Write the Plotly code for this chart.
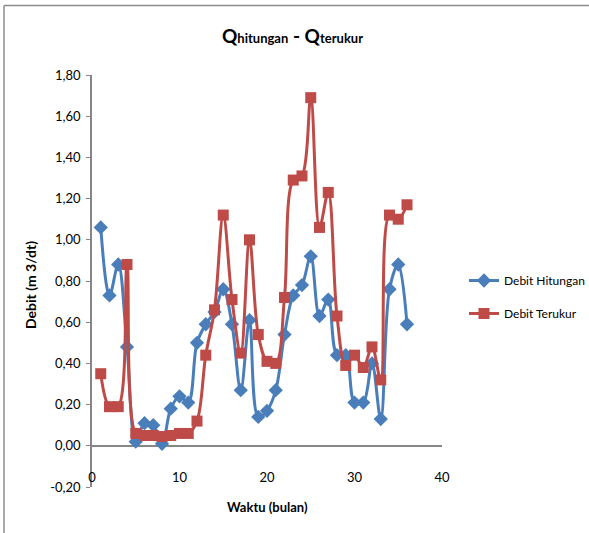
import plotly.graph_objects as go

months = list(range(1, 37))
debit_hitungan = [1.06, 0.73, 0.88, 0.48, 0.02, 0.11, 0.10, 0.01, 0.18, 0.24, 0.21, 0.50,
                  0.59, 0.65, 0.76, 0.59, 0.27, 0.61, 0.14, 0.17, 0.27, 0.54, 0.73, 0.78,
                  0.92, 0.63, 0.71, 0.44, 0.44, 0.21, 0.21, 0.40, 0.13, 0.76, 0.88, 0.59]
debit_terukur = [0.35, 0.19, 0.19, 0.88, 0.06, 0.05, 0.05, 0.045, 0.05, 0.06, 0.06, 0.12,
                 0.44, 0.66, 1.12, 0.71, 0.45, 1.00, 0.54, 0.41, 0.40, 0.72, 1.29, 1.31,
                 1.69, 1.06, 1.23, 0.63, 0.39, 0.44, 0.38, 0.48, 0.32, 1.12, 1.10, 1.17]
y_ticks = [-0.2, 0, 0.2, 0.4, 0.6, 0.8, 1.0, 1.2, 1.4, 1.6, 1.8]
y_tick_labels = ["-0,20", "0,00", "0,20", "0,40", "0,60", "0,80", "1,00",
                 "1,20", "1,40", "1,60", "1,80"]
x_ticks = [0, 10, 20, 30, 40]

FONT = "Lato"
BLUE = "#4A7EBB"
RED = "#BE4B48"
GRAY = "#868686"

fig = go.Figure()
fig.add_trace(go.Scatter(
    x=months, y=debit_hitungan, name="Debit Hitungan", mode="lines+markers",
    legendgroup="h",
    line=dict(color=BLUE, width=3, shape="spline", smoothing=1),
    marker=dict(symbol="diamond", size=11, color=BLUE),
))
fig.add_trace(go.Scatter(
    x=months, y=debit_terukur, name="Debit Terukur", mode="lines+markers",
    legendgroup="t",
    line=dict(color=RED, width=3, shape="spline", smoothing=1),
    marker=dict(symbol="square", size=11, color=RED),
))

W, H = 589, 533
L, R, T, B = 92, 147, 75, 46
pw, ph = W - L - R, H - T - B

def px_x(p):
    return (p - L) / pw

def px_y(p):
    return (H - B - p) / ph

fig.update_layout(
    width=W, height=H,
    margin=dict(l=L, r=R, t=T, b=B, autoexpand=False),
    paper_bgcolor="white", plot_bgcolor="white",
    separators=",.",
    font=dict(family=FONT, size=12, color="#000000"),
    showlegend=True,
    legend=dict(x=px_x(464), y=px_y(266), xanchor="left", yanchor="top",
                font=dict(family=FONT, size=12, color="#000000"),
                tracegroupgap=14, itemwidth=30, bgcolor="rgba(0,0,0,0)"),
    xaxis=dict(range=[0, 40], tickvals=x_ticks, showgrid=False, zeroline=False,
               showline=False, ticks="", anchor="free", position=px_y(468),
               tickfont=dict(family=FONT, size=13)),
    yaxis=dict(range=[-0.2, 1.8], tickvals=y_ticks, ticktext=y_tick_labels,
               showgrid=False, zeroline=True, zerolinecolor=GRAY, zerolinewidth=2,
               showline=True, linecolor=GRAY, linewidth=1.5,
               ticks="outside", ticklen=4, tickcolor=GRAY, tickwidth=1,
               ticklabelstandoff=3,
               tickfont=dict(family=FONT, size=13)),
    annotations=[
        dict(text="<b>Q<span style='font-size:13px'>hitungan</span> - Q<span style='font-size:13px'>terukur</span></b>",
             x=px_x(292), y=px_y(36), xref="paper", yref="paper",
             xanchor="center", yanchor="middle", showarrow=False,
             font=dict(family=FONT, size=19, color="#000000")),
        dict(text="<b>Waktu (bulan)</b>", x=px_x(267), y=px_y(507),
             xref="paper", yref="paper", xanchor="center", yanchor="middle",
             showarrow=False, font=dict(family=FONT, size=13, color="#000000")),
        dict(text="<b>Debit (m 3/dt)</b>", x=px_x(30), y=px_y(285),
             xref="paper", yref="paper", xanchor="center", yanchor="middle",
             textangle=-90, showarrow=False,
             font=dict(family=FONT, size=14, color="#000000")),
    ],
    shapes=[
        dict(type="line", xref="paper", yref="paper",
             x0=px_x(4), x1=px_x(600), y0=px_y(5.5), y1=px_y(5.5),
             line=dict(color="#8C8C8C", width=1.5)),
        dict(type="line", xref="paper", yref="paper",
             x0=px_x(4), x1=px_x(4), y0=px_y(5.5), y1=px_y(540),
             line=dict(color="#8C8C8C", width=1.5)),
    ],
)

fig.write_html("out.html")
